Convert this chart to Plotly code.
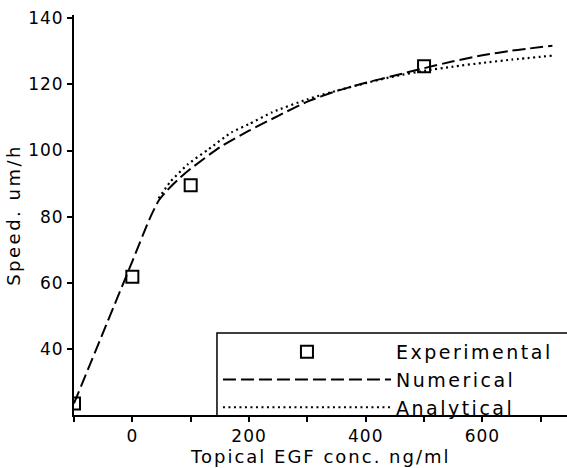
import plotly.graph_objects as go

# Cell speed versus topical EGF concentration
exp_conc = [-100, 0, 100, 500]
exp_speed = [23.5, 61.8, 89.5, 125.5]

num_conc = [-100, -50, 0, 30, 45, 60, 80, 100, 150, 200, 250, 300, 350, 400, 450, 500, 550, 600, 650, 720]
num_speed = [23.5, 45, 66.5, 79.5, 84.8, 88, 91.5, 94.5, 101, 106, 110.5, 114.8, 118, 120.5, 122.7, 124.9, 127, 128.8, 130.2, 131.7]

ana_conc = [45, 65, 95, 130, 170, 200, 240, 300, 340, 400, 450, 500, 550, 600, 650, 720]
ana_speed = [85.5, 90.5, 95.8, 100.3, 105.5, 108, 111.6, 115.5, 117.6, 120.4, 122.5, 124.1, 125.4, 126.5, 127.5, 128.7]

x_ticks = [0, 200, 400, 600]
y_ticks = [40, 60, 80, 100, 120, 140]

FONT = "DejaVu Sans"


def spaced(text, px):
    return f'<span style="letter-spacing:{px}px">{text}</span>'


fig = go.Figure()
fig.add_trace(go.Scatter(
    x=exp_conc, y=exp_speed, mode="markers", name=spaced("Experimental", 2.5),
    marker=dict(symbol="square-open", size=12, color="black", line=dict(width=2, color="black")),
))
fig.add_trace(go.Scatter(
    x=num_conc, y=num_speed, mode="lines", name=spaced("Numerical", 2.5),
    line=dict(color="black", width=2, dash="13px,5px", shape="spline", smoothing=0.6),
))
fig.add_trace(go.Scatter(
    x=ana_conc, y=ana_speed, mode="lines", name=spaced("Analytical", 2.5),
    line=dict(color="black", width=2.2, dash="2px,3.5px", shape="spline", smoothing=0.6),
))

fig.update_layout(
    width=567, height=468,
    margin=dict(l=74, r=0, t=15, b=53),
    paper_bgcolor="white", plot_bgcolor="white",
    font=dict(family=FONT, color="black", size=17),
    showlegend=True,
    legend=dict(
        x=0.292, y=0.205, xanchor="left", yanchor="top",
        bgcolor="rgba(0,0,0,0)", borderwidth=0,
        font=dict(family=FONT, size=19, color="black"),
        itemwidth=168, tracegroupgap=0,
    ),
    xaxis=dict(
        range=[-100, 745], showline=True, linecolor="black", linewidth=2,
        showgrid=False, zeroline=False, ticks="outside", ticklen=5, tickwidth=1.5,
        tickcolor="black", tickvals=x_ticks,
        ticktext=[spaced(str(v), 1) for v in x_ticks],
        minor=dict(tickvals=[-100, 100, 300, 500, 700], ticks="outside", ticklen=5,
                   tickwidth=1.5, tickcolor="black"),
        tickfont=dict(size=17),
    ),
    yaxis=dict(
        range=[20, 141], showline=True, linecolor="black", linewidth=2,
        showgrid=False, zeroline=False, ticks="outside", ticklen=5, tickwidth=1.5,
        tickcolor="black", tickvals=y_ticks,
        ticktext=[spaced(str(v), 1) for v in y_ticks],
        tickfont=dict(size=17),
    ),
    annotations=[
        dict(text=spaced("Speed. um/h", 2.5), xref="paper", yref="paper",
             x=-0.124, y=0.5, xanchor="center", yanchor="middle", textangle=-90,
             showarrow=False, font=dict(size=18)),
        dict(text=spaced("Topical EGF conc. ng/ml", 2), xref="paper", yref="paper",
             x=0.501, y=-0.1025, xanchor="center", yanchor="middle",
             showarrow=False, font=dict(size=18)),
    ],
    shapes=[
        dict(type="path", xref="paper", yref="paper",
             path="M 0.29 0 L 0.29 0.205 L 1.05 0.205",
             line=dict(color="black", width=1.5)),
    ],
)

fig.write_html("out.html")
